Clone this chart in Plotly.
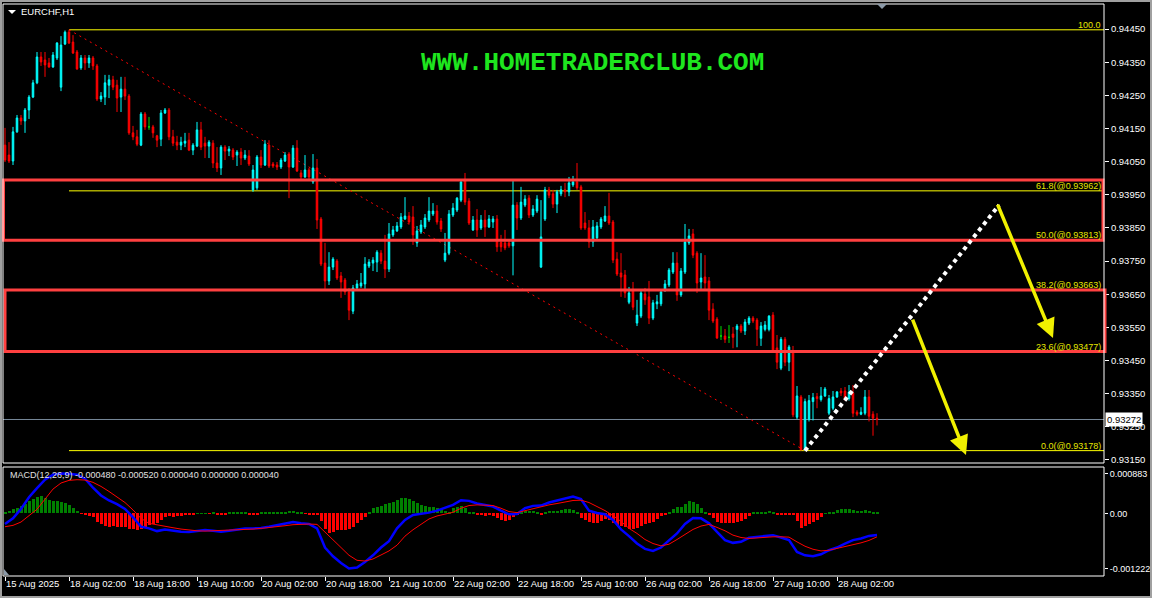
import numpy as np
import plotly.graph_objects as go

# EURCHF H1 candles, prices in points (1 point = 0.00001)
open_pts = [
    94100, 94070, 94052, 94140, 94182, 94173, 94206, 94245, 94288, 94366,
    94357, 94348, 94336, 94363, 94275, 94405, 94441, 94411, 94381, 94333,
    94363, 94348, 94363, 94339, 94239, 94245, 94281, 94297, 94281, 94245,
    94269, 94248, 94137, 94125, 94100, 94194, 94155, 94155, 94128, 94118,
    94197, 94206, 94125, 94109, 94100, 94106, 94115, 94085, 94097, 94146,
    94106, 94097, 94106, 94046, 94031, 94094, 94082, 94085, 94070, 94079,
    94061, 94067, 93965, 93971, 94064, 94040, 94100, 94043, 94040, 94034,
    94052, 94073, 94034, 94091, 94016, 94004, 94025, 93989, 94031, 93877,
    93744, 93690, 93732, 93750, 93705, 93693, 93657, 93599, 93669, 93675,
    93681, 93735, 93744, 93747, 93774, 93750, 93726, 93829, 93841, 93853,
    93877, 93886, 93883, 93805, 93838, 93853, 93874, 93892, 93901, 93871,
    93753, 93774, 93889, 93904, 93934, 93995, 93931, 93844, 93874, 93850,
    93874, 93853, 93868, 93877, 93806, 93805, 93805, 93796, 93919, 93880,
    93919, 93940, 93889, 93901, 93732, 93877, 93965, 93953, 93922, 93953,
    93965, 93959, 93980, 93989, 93974, 93865, 93850, 93808, 93820, 93853,
    93871, 93886, 93868, 93756, 93714, 93708, 93626, 93663, 93563, 93584,
    93651, 93642, 93578, 93621, 93621, 93663, 93678, 93717, 93744, 93648,
    93717, 93805, 93832, 93774, 93687, 93702, 93690, 93605, 93575, 93524,
    93524, 93520, 93530, 93544, 93554, 93539, 93563, 93578, 93572, 93517,
    93544, 93544, 93587, 93488, 93427, 93514, 93445, 93476, 93279, 93340,
    93180, 93272, 93326, 93341, 93332, 93343, 93291, 93306, 93340, 93358,
    93358, 93335, 93352, 93294, 93288, 93291, 93340, 93288, 93276,
]
high_pts = [
    94152, 94109, 94155, 94191, 94191, 94212, 94251, 94297, 94381, 94381,
    94381, 94363, 94381, 94411, 94429, 94446, 94448, 94432, 94387, 94372,
    94372, 94372, 94369, 94345, 94260, 94312, 94312, 94309, 94297, 94306,
    94306, 94254, 94158, 94146, 94200, 94200, 94185, 94161, 94131, 94206,
    94212, 94212, 94146, 94128, 94125, 94137, 94137, 94106, 94170, 94170,
    94125, 94115, 94115, 94094, 94100, 94100, 94097, 94091, 94085, 94091,
    94085, 94085, 94040, 94070, 94085, 94115, 94115, 94049, 94049, 94061,
    94079, 94079, 94100, 94115, 94025, 94070, 94031, 94073, 94058, 93883,
    93805, 93777, 93762, 93756, 93717, 93699, 93669, 93678, 93693, 93714,
    93762, 93756, 93762, 93783, 93783, 93829, 93865, 93856, 93868, 93895,
    93943, 93898, 93916, 93856, 93874, 93892, 93943, 93925, 93919, 93880,
    93835, 93904, 93925, 93943, 93995, 94016, 93940, 93886, 93907, 93889,
    93904, 93889, 93886, 93889, 93829, 93844, 93814, 93995, 93928, 93974,
    93949, 93949, 93919, 93949, 93934, 93974, 93974, 93965, 93965, 93977,
    93986, 94004, 94007, 94046, 93980, 93898, 93874, 93874, 93868, 93883,
    93916, 93956, 93874, 93777, 93774, 93723, 93672, 93687, 93633, 93663,
    93669, 93690, 93633, 93648, 93663, 93693, 93729, 93777, 93777, 93729,
    93862, 93847, 93847, 93780, 93774, 93768, 93702, 93623, 93581, 93554,
    93545, 93557, 93551, 93560, 93560, 93575, 93584, 93584, 93578, 93566,
    93569, 93587, 93596, 93527, 93521, 93521, 93497, 93494, 93373, 93346,
    93335, 93346, 93352, 93352, 93370, 93370, 93346, 93358, 93358, 93367,
    93370, 93376, 93376, 93300, 93309, 93361, 93361, 93297, 93291,
]
low_pts = [
    94049, 94046, 94040, 94137, 94161, 94137, 94179, 94242, 94284, 94339,
    94306, 94333, 94333, 94357, 94263, 94402, 94405, 94375, 94327, 94327,
    94327, 94333, 94327, 94233, 94230, 94221, 94242, 94266, 94200, 94200,
    94236, 94131, 94115, 94097, 94097, 94146, 94146, 94122, 94094, 94097,
    94194, 94115, 94097, 94085, 94085, 94094, 94082, 94070, 94094, 94085,
    94061, 94061, 94031, 94019, 94010, 94055, 94067, 94055, 94037, 94040,
    94055, 94037, 93959, 93965, 94031, 94037, 94031, 94031, 94025, 94028,
    94049, 93940, 94031, 94019, 93995, 94001, 93995, 93983, 93847, 93735,
    93666, 93678, 93723, 93693, 93639, 93648, 93572, 93590, 93663, 93669,
    93666, 93729, 93720, 93717, 93741, 93699, 93717, 93823, 93838, 93847,
    93874, 93862, 93799, 93793, 93832, 93847, 93868, 93886, 93860, 93838,
    93747, 93768, 93883, 93898, 93928, 93919, 93859, 93841, 93823, 93844,
    93823, 93850, 93850, 93778, 93778, 93783, 93790, 93707, 93844, 93874,
    93913, 93880, 93883, 93895, 93729, 93871, 93940, 93910, 93895, 93946,
    93943, 93946, 93974, 93965, 93844, 93844, 93790, 93793, 93814, 93847,
    93868, 93859, 93744, 93705, 93642, 93639, 93620, 93602, 93554, 93578,
    93618, 93560, 93572, 93605, 93614, 93657, 93672, 93711, 93630, 93642,
    93711, 93799, 93759, 93654, 93666, 93663, 93572, 93563, 93515, 93512,
    93503, 93503, 93487, 93490, 93533, 93527, 93557, 93563, 93494, 93494,
    93538, 93538, 93473, 93424, 93421, 93433, 93418, 93279, 93273, 93180,
    93178, 93266, 93269, 93306, 93326, 93340, 93285, 93300, 93337, 93343,
    93329, 93329, 93279, 93282, 93285, 93285, 93266, 93223, 93254,
]
close_pts = [
    94055, 94052, 94140, 94182, 94173, 94206, 94245, 94288, 94366, 94351,
    94342, 94336, 94372, 94408, 94402, 94441, 94408, 94378, 94330, 94363,
    94348, 94363, 94339, 94239, 94248, 94288, 94297, 94275, 94242, 94269,
    94248, 94137, 94125, 94103, 94194, 94155, 94155, 94137, 94115, 94197,
    94206, 94125, 94106, 94100, 94109, 94112, 94085, 94100, 94146, 94094,
    94097, 94109, 94046, 94031, 94094, 94082, 94088, 94064, 94079, 94061,
    94070, 94043, 94025, 94064, 94040, 94103, 94037, 94037, 94034, 94055,
    94070, 94034, 94091, 94022, 94004, 94025, 94004, 94031, 93874, 93741,
    93690, 93732, 93756, 93699, 93687, 93657, 93602, 93669, 93681, 93684,
    93741, 93747, 93753, 93777, 93750, 93726, 93832, 93844, 93856, 93883,
    93886, 93868, 93829, 93841, 93859, 93880, 93901, 93901, 93868, 93847,
    93774, 93892, 93910, 93940, 93989, 93928, 93865, 93874, 93844, 93874,
    93853, 93877, 93877, 93793, 93793, 93790, 93796, 93919, 93880, 93928,
    93937, 93889, 93907, 93937, 93823, 93965, 93949, 93922, 93959, 93965,
    93959, 93986, 93989, 93971, 93850, 93850, 93808, 93853, 93856, 93877,
    93886, 93865, 93753, 93711, 93702, 93654, 93654, 93611, 93587, 93654,
    93633, 93578, 93624, 93627, 93657, 93681, 93723, 93744, 93648, 93720,
    93808, 93826, 93768, 93684, 93699, 93684, 93602, 93569, 93518, 93524,
    93514, 93520, 93520, 93554, 93539, 93566, 93578, 93569, 93544, 93554,
    93557, 93584, 93476, 93445, 93514, 93445, 93491, 93286, 93343, 93180,
    93326, 93329, 93338, 93335, 93343, 93364, 93335, 93340, 93355, 93352,
    93335, 93355, 93291, 93288, 93294, 93340, 93282, 93276, 93272,
]

# MACD(12,26,9), values in 1e-6; lines read every second bar
macd_main = [
    -236, -110, 99, 360, 562, 748, 860, 883, 880, 860,
    771, 569, 398, 286, 204, 99, -87, -296, -333, -393,
    -356, -386, -408, -415, -386, -371, -386, -408, -386, -356,
    -333, -333, -326, -296, -266, -236, -192, -221, -236, -333,
    -758, -952, -1102, -1222, -1200, -1079, -930, -758, -617, -333,
    -147, -35, -13, 17, 62, 129, 189, 293, 278, 219,
    189, 152, 62, -20, -13, 114, 167, 174, 241, 286,
    323, 375, 316, 62, 10, -20, -147, -356, -505, -669,
    -788, -833, -758, -594, -445, -236, -102, -110, -221, -408,
    -594, -654, -632, -542, -520, -505, -483, -535, -594, -856,
    -930, -952, -908, -818, -758, -669, -594, -557, -500, -480,
]
macd_signal = [
    -296, -266, -192, -57, 92, 316, 540, 674, 733, 748,
    741, 689, 599, 487, 360, 241, 77, -110, -221, -259,
    -296, -318, -348, -371, -386, -393, -386, -378, -378, -371,
    -363, -348, -333, -318, -296, -274, -251, -236, -236, -244,
    -408, -594, -758, -930, -1042, -1057, -1012, -923, -833, -706,
    -505, -363, -244, -124, -57, -13, 25, 114, 174, 189,
    189, 174, 114, 40, 17, 62, 114, 159, 189, 219,
    249, 286, 293, 241, 152, 62, -50, -177, -333, -445,
    -580, -669, -721, -684, -580, -460, -356, -281, -244, -311,
    -386, -483, -535, -557, -542, -527, -520, -520, -527, -632,
    -729, -796, -833, -818, -781, -729, -699, -654, -600, -520,
]
macd_hist = [
    22, 52, 90, 127, 164, 209, 269, 321, 373, 388,
    336, 298, 276, 276, 261, 239, 187, 127, 52, -7,
    -37, -52, -90, -187, -246, -269, -291, -283, -298, -298,
    -313, -336, -343, -358, -336, -298, -261, -239, -224, -149,
    -82, -60, -75, -60, -52, -37, -22, -15, 7, 7,
    7, -7, 15, -22, -30, -22, 15, 15, 22, 22,
    15, -15, -22, -15, 15, 22, 37, 30, 22, 30,
    37, 45, 52, 37, 22, -7, -15, -15, -37, -164,
    -336, -425, -410, -373, -373, -358, -336, -298, -224, -149,
    -75, 37, 112, 149, 172, 201, 224, 261, 298, 351,
    336, 321, 276, 224, 187, 172, 149, 134, 112, 97,
    52, 37, 112, 149, 164, 112, 37, 15, -37, -45,
    -52, -37, -52, -112, -149, -164, -149, -75, -22, 37,
    52, 52, 45, 37, -15, 37, 52, 52, 52, 75,
    90, 90, 75, 15, -97, -149, -187, -224, -209, -172,
    -134, -149, -224, -261, -283, -298, -336, -351, -321, -276,
    -246, -224, -187, -134, -60, -22, 37, 90, 134, 149,
    201, 276, 261, 201, 112, 37, -15, -112, -187, -224,
    -224, -224, -224, -201, -164, -134, -52, 15, 15, 22,
    22, 52, 15, -22, -22, -22, -15, -37, -172, -321,
    -276, -239, -187, -149, -75, 7, 15, 22, 75, 90,
    97, 90, 75, 60, 60, 75, 52, 37, 40,
]

time_labels = ["15 Aug 2025", "18 Aug 02:00", "18 Aug 18:00", "19 Aug 10:00",
               "20 Aug 02:00", "20 Aug 18:00", "21 Aug 10:00", "22 Aug 02:00",
               "22 Aug 18:00", "25 Aug 10:00", "26 Aug 02:00", "26 Aug 18:00",
               "27 Aug 10:00", "28 Aug 02:00"]
label_bars = [0, 16, 32, 48, 64, 80, 96, 112, 128, 144, 160, 176, 192, 208]
price_ticks = [0.93150, 0.93250, 0.93350, 0.93450, 0.93550, 0.93650, 0.93750,
               0.93850, 0.93950, 0.94050, 0.94150, 0.94250, 0.94350, 0.94450]
macd_ticks = [0.000883, 0.0, -0.001222]
macd_tick_text = ["0.000883", "0.00", "-0.001222"]

fib_levels = ["100.0", "61.8", "50.0", "38.2", "23.6", "0.0"]
fib_prices = [0.94448, 0.93962, 0.93813, 0.93663, 0.93477, 0.93178]
last_price = 0.93272

# drawing objects (bar index, price)
fib_from, fib_to, chart_end = 16, 200, 274.75
zones = [(0.93813, 0.93995), (0.93477, 0.93663)]
white_path = [(200, 0.93178), (248.5, 0.93919)]
arrows = [((248, 0.93925), (262, 0.93518)), ((226.75, 0.93578), (240.25, 0.93165))]

opens = np.array(open_pts) / 1e5
highs = np.array(high_pts) / 1e5
lows = np.array(low_pts) / 1e5
closes = np.array(close_pts) / 1e5
bars = np.arange(len(opens))
doji = opens == closes
line_bars = np.arange(0, len(opens), 2)
main_line = np.array(macd_main) / 1e6
signal_line = np.array(macd_signal) / 1e6
hist = np.array(macd_hist) / 1e6

W, H = 1152, 598
ML, MR, MT, MB = 3, 48, 4, 22


def px(x):
    return (x - ML) / (W - ML - MR)


def py(y):
    return (H - MB - y) / (H - MT - MB)


MT4 = "Liberation Sans"
fig = go.Figure()

fig.add_trace(go.Candlestick(
    x=bars[~doji], open=opens[~doji], high=highs[~doji], low=lows[~doji], close=closes[~doji],
    increasing=dict(line=dict(color="#00ffff", width=1), fillcolor="#00ffff"),
    decreasing=dict(line=dict(color="#ff0000", width=1), fillcolor="#ff0000"),
    whiskerwidth=0, hoverinfo="skip"))
fig.add_trace(go.Candlestick(
    x=bars[doji], open=opens[doji], high=highs[doji], low=lows[doji], close=closes[doji],
    increasing=dict(line=dict(color="#00e000", width=1), fillcolor="#00e000"),
    decreasing=dict(line=dict(color="#00e000", width=1), fillcolor="#00e000"),
    whiskerwidth=0, hoverinfo="skip"))

fig.add_trace(go.Bar(x=bars, y=hist, width=0.75, yaxis="y2",
                     marker=dict(color=np.where(hist >= 0, "#008000", "#ff0000"), line_width=0)))
fig.add_trace(go.Scatter(x=line_bars, y=main_line, yaxis="y2", mode="lines",
                         line=dict(color="#0000ff", width=2.5)))
fig.add_trace(go.Scatter(x=line_bars, y=signal_line, yaxis="y2", mode="lines",
                         line=dict(color="#ff0000", width=1)))

shapes = []
# last price line
shapes.append(dict(type="line", xref="paper", x0=0, x1=1, yref="y", y0=last_price, y1=last_price,
                   line=dict(color="#778899", width=1), layer="below"))
# fibonacci levels
for p in fib_prices:
    shapes.append(dict(type="line", xref="x", x0=fib_from, x1=chart_end, yref="y", y0=p, y1=p,
                       line=dict(color="#ffff00", width=1), layer="below"))
shapes.append(dict(type="line", xref="x", yref="y", x0=fib_from, y0=fib_prices[0], x1=fib_to, y1=fib_prices[-1],
                   line=dict(color="#ff0000", width=1, dash="2px,4px"), layer="below"))
# zones
for (lo, hi), (xa, xb) in zip(zones, [(3.5, 1103), (5, 1105)]):
    shapes.append(dict(type="rect", xref="paper", x0=px(xa), x1=px(xb), yref="y", y0=lo, y1=hi,
                       line=dict(color="#ff4040", width=3), fillcolor="rgba(0,0,0,0)"))
# projection path
shapes.append(dict(type="line", xref="x", yref="y", x0=white_path[0][0], y0=white_path[0][1],
                   x1=white_path[1][0], y1=white_path[1][1], line=dict(color="#ffffff", width=4, dash="dot")))
# pane frames
shapes.append(dict(type="rect", xref="paper", yref="paper", x0=0, x1=1, y0=py(463), y1=1,
                   line=dict(color="#ffffff", width=1)))
shapes.append(dict(type="rect", xref="paper", yref="paper", x0=0, x1=1, y0=0, y1=py(467),
                   line=dict(color="#ffffff", width=1)))
# window frame
shapes.append(dict(type="rect", xref="paper", yref="paper", x0=px(1), x1=px(1151), y0=py(597), y1=py(1),
                   line=dict(color="#a0a0a0", width=2)))
# small MT4 markers
shapes.append(dict(type="path", xref="paper", yref="paper",
                   path=f"M {px(877)},{py(4)} L {px(887)},{py(4)} L {px(882)},{py(9)} Z",
                   fillcolor="#8c9aa8", line_width=0))
shapes.append(dict(type="path", xref="paper", yref="paper",
                   path=f"M {px(4)},{py(569)} L {px(4)},{py(575)} L {px(9)},{py(575)} Z",
                   fillcolor="#8c9aa8", line_width=0))
shapes.append(dict(type="path", xref="paper", yref="paper",
                   path=f"M {px(8)},{py(10)} L {px(16)},{py(10)} L {px(12)},{py(14)} Z",
                   fillcolor="#ffffff", line_width=0))

ann = []
ann.append(dict(x=px(19), y=py(12), xref="paper", yref="paper", xanchor="left", yanchor="middle",
                text="EURCHF,H1", showarrow=False, font=dict(family=MT4, size=9.5, color="#ffffff")))
ann.append(dict(x=px(592), y=py(63), xref="paper", yref="paper", xanchor="center", yanchor="middle",
                text="WWW.HOMETRADERCLUB.COM", showarrow=False,
                font=dict(family="Liberation Mono", size=26, color="#1ee61e", weight="bold")))
ann.append(dict(x=px(8), y=py(475), xref="paper", yref="paper", xanchor="left", yanchor="middle",
                text="MACD(12,26,9) -0.000480 -0.000520 0.000040 0.000000 0.000040", showarrow=False,
                font=dict(family=MT4, size=9, color="#e0e0e0")))
for lvl, p in zip(fib_levels, fib_prices):
    label = lvl if lvl == "100.0" else f"{lvl}(@{p:.5f})"
    ann.append(dict(x=1, xref="paper", xanchor="right", xshift=-1, y=p, yref="y", yanchor="bottom",
                    yshift=-2, text=label, showarrow=False, font=dict(family=MT4, size=9, color="#e6e600")))
ann.append(dict(x=1, xref="paper", xanchor="left", xshift=1, y=last_price, yref="y", yanchor="middle",
                text=f"{last_price:.5f}", showarrow=False, bgcolor="#ffffff", borderpad=1,
                font=dict(family=MT4, size=9.5, color="#000000")))
for b, t in zip(label_bars, time_labels):
    ann.append(dict(x=b, xref="x", xanchor="left", xshift=-1, y=py(583), yref="paper", yanchor="middle",
                    text=t, showarrow=False, font=dict(family=MT4, size=9.5, color="#ffffff")))
for (x0, y0), (x1, y1) in arrows:
    ann.append(dict(x=x1, y=y1, ax=x0, ay=y0, xref="x", yref="y", axref="x", ayref="y", text="",
                    showarrow=True, arrowhead=2, arrowsize=1.1, arrowwidth=3.5, arrowcolor="#f0f000"))

fig.update_layout(
    width=W, height=H,
    margin=dict(l=ML, r=MR, t=MT, b=MB, autoexpand=False),
    paper_bgcolor="#000000", plot_bgcolor="#000000",
    showlegend=False, hovermode=False, boxgap=0.45, bargap=0,
    xaxis=dict(range=[-0.5, chart_end], anchor="y2", showgrid=False, zeroline=False, showline=False,
               rangeslider=dict(visible=False), tickvals=label_bars, showticklabels=False,
               ticks="outside", ticklen=4, tickcolor="#ffffff", automargin=False),
    yaxis=dict(domain=[py(463), 1], range=[0.931407, 0.945259], side="right", showgrid=False,
               zeroline=False, tickvals=price_ticks, tickformat=".5f", ticks="outside", ticklen=4,
               tickcolor="#ffffff", tickfont=dict(family=MT4, size=9.5, color="#ffffff"),
               automargin=False),
    yaxis2=dict(domain=[0, py(467)], range=[-0.00139, 0.00103], side="right", anchor="x",
                showgrid=False, zeroline=False, tickvals=macd_ticks, ticktext=macd_tick_text,
                ticks="outside", ticklen=3, tickcolor="#ffffff",
                tickfont=dict(family=MT4, size=9, color="#ffffff"), automargin=False),
    shapes=shapes, annotations=ann,
)

# the page's default body margin would shift the chart; remove it
fig.write_html("out.html", config={"displayModeBar": False},
               post_script="document.body.style.margin='0';document.body.style.background='#000';")
